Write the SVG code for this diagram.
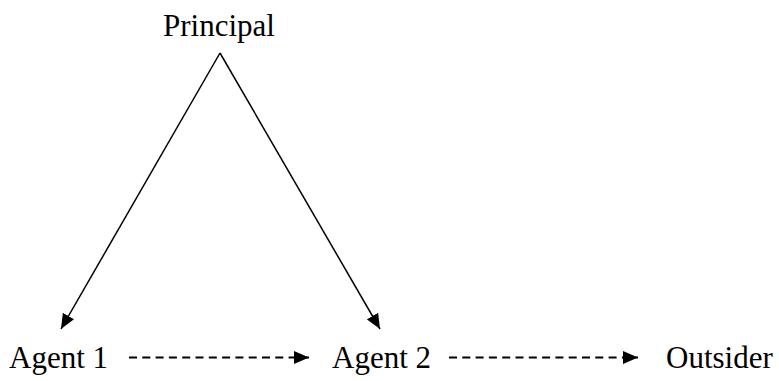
<svg xmlns="http://www.w3.org/2000/svg" width="779" height="381" viewBox="0 0 779 381">
<style>
text { font-family: "Liberation Serif", "Times New Roman", serif; font-size: 31px; fill: #000; }
.solid { stroke: #000; stroke-width: 1.5; fill: none; }
.dash { stroke: #000; stroke-width: 2; fill: none; stroke-dasharray: 8 5.3; }
</style>
<defs>
<marker id="ah" viewBox="0 0 15 13" refX="15" refY="6.5" markerWidth="15" markerHeight="13" markerUnits="userSpaceOnUse" orient="auto">
<path d="M0,0 L15,6.5 L0,13 Z" fill="#000"/>
</marker>
</defs>
<g id="principal"><text x="163" y="36">Principal</text></g>
<g id="agent1"><text x="9" y="368">Agent 1</text></g>
<g id="agent2"><text x="332" y="368">Agent 2</text></g>
<g id="outsider"><text x="666" y="368">Outsider</text></g>
<g id="connectors">
<line class="solid" x1="220" y1="53" x2="61" y2="329" marker-end="url(#ah)"/>
<line class="solid" x1="220" y1="53" x2="380" y2="329" marker-end="url(#ah)"/>
<line class="dash" x1="129" y1="357.5" x2="309" y2="357.5" marker-end="url(#ah)"/>
<line class="dash" x1="449" y1="357.5" x2="638" y2="357.5" marker-end="url(#ah)"/>
</g>
</svg>
